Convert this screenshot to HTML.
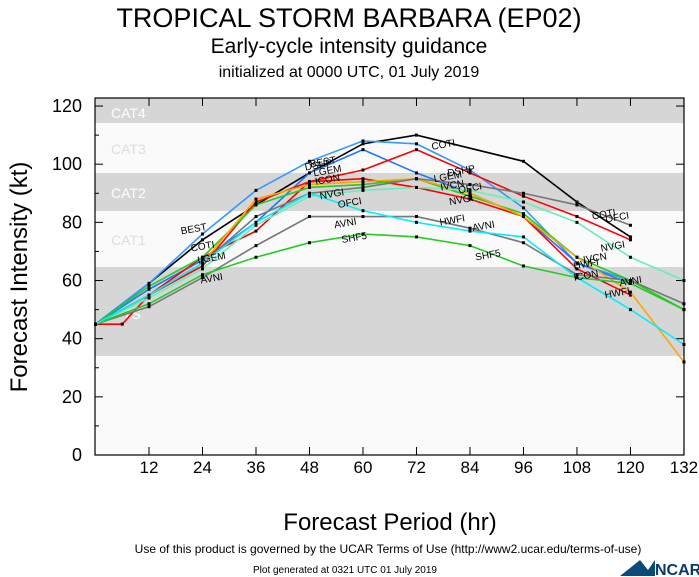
<!DOCTYPE html><html><head><style>body{margin:0;background:#fff}svg{display:block;font-family:"Liberation Sans",sans-serif}</style></head><body>
<svg id="s" width="699" height="577" xmlns="http://www.w3.org/2000/svg">
<text x="349" y="27" font-size="27" text-anchor="middle">TROPICAL STORM BARBARA (EP02)</text>
<text x="349" y="53" font-size="21" text-anchor="middle">Early-cycle intensity guidance</text>
<text x="349" y="77" font-size="16" text-anchor="middle">initialized at 0000 UTC, 01 July 2019</text>
<rect x="95" y="98" width="589" height="357" fill="#fafafa"/>
<rect x="95" y="98" width="589" height="25" fill="#d6d6d6"/>
<rect x="95" y="173" width="589" height="38" fill="#d6d6d6"/>
<rect x="95" y="267" width="589" height="89" fill="#d6d6d6"/>
<g font-size="14" fill="#fff"><text x="111" y="118">CAT4</text><text x="111" y="154" fill="#ddd">CAT3</text><text x="111" y="198">CAT2</text><text x="111" y="245" fill="#ddd">CAT1</text><text x="123" y="319">TS</text></g>
<g id="ax"></g>
<g id="ln" fill="none" stroke-width="1.6"></g>
<g id="lb" font-size="10"></g>
<rect x="95" y="98" width="589" height="357" fill="none" stroke="#000" stroke-width="1.2"/>
<text transform="translate(27,277) rotate(-90)" font-size="24" text-anchor="middle">Forecast Intensity (kt)</text>
<text x="390" y="530" font-size="24" text-anchor="middle">Forecast Period (hr)</text>
<text x="388" y="553" font-size="12" text-anchor="middle">Use of this product is governed by the UCAR Terms of Use (http://www2.ucar.edu/terms-of-use)</text>
<text x="345" y="573" font-size="10" text-anchor="middle">Plot generated at 0321 UTC   01 July 2019</text>
<path d="M620 576 L640 560 L648 570 L655 560 L655 576Z" fill="#0a4a7a"/>
<text x="655" y="575" font-size="16" font-weight="bold" fill="#0a3a6a">NCAR</text>
</svg>
<script>
const X=h=>95.5+h*4.458,Y=k=>455-k*2.908,ns="http://www.w3.org/2000/svg";
function el(p,t,a,tx){const e=document.createElementNS(ns,t);for(const k in a)e.setAttribute(k,a[k]);if(tx!==undefined)e.textContent=String(tx);document.getElementById(p).appendChild(e);return e}
for(let k=0;k<=120;k+=20){el("ax","text",{x:82,y:Y(k)+6,"font-size":18,"text-anchor":"end"},k);el("ax","line",{x1:95,x2:103,y1:Y(k),y2:Y(k),stroke:"#000"});el("ax","line",{x1:676,x2:684,y1:Y(k),y2:Y(k),stroke:"#000"});}
for(let k=10;k<120;k+=20){el("ax","line",{x1:95,x2:99,y1:Y(k),y2:Y(k),stroke:"#000"});}
for(let h=12;h<=132;h+=12){el("ax","text",{x:X(h),y:473,"font-size":17,"text-anchor":"middle"},h);el("ax","line",{x1:X(h),x2:X(h),y1:455,y2:447,stroke:"#000"});el("ax","line",{x1:X(h),x2:X(h),y1:98,y2:106,stroke:"#000"});}
const S=[
["#000","COTI",[[0,45],[12,59],[24,74],[36,86],[48,97],[60,107],[72,110],[96,101],[108,87],[120,75]],[[24,72],[78,107],[114,83]]],
["#3399ff","BEST",[[0,45],[12,59],[24,76],[36,91],[48,101],[60,108],[72,107],[84,98],[96,85],[108,66],[120,60]],[[22,78],[51,101]]],
["#1e78ff","LGEM",[[0,45],[12,57],[24,67],[36,80],[48,97],[60,105],[72,97],[84,90],[96,82],[108,66],[120,59]],[[26,68],[79,96],[52,98]]],
["#ff0000","DSHP",[[0,45],[6,45],[12,55],[24,68],[36,77],[48,94],[60,98],[72,105],[84,97],[96,89],[108,82],[120,74]],[[50,100],[82,98]]],
["#ff0000","ICON",[[0,45],[12,55],[24,65],[36,87],[48,94],[60,95],[72,92],[84,88],[96,82],[108,64],[120,55]],[[52,95],[110,62]]],
["#22cc22","HWFI",[[0,45],[12,58],[24,68],[36,86],[48,92],[60,93],[72,95],[84,89],[96,83],[108,68],[120,60],[132,50]],[[110,66]]],
["#ffa500","IVCN",[[0,45],[12,55],[24,66],[36,88],[48,93],[60,94],[72,95],[84,90],[96,82],[108,68],[120,56],[132,32]],[[80,93],[112,68]]],
["#66eebb","NVGI",[[0,45],[12,54],[24,64],[36,79],[48,89],[60,91],[72,92],[84,91],[96,87],[108,80],[120,68],[132,60]],[[53,90],[82,88],[116,72]]],
["#777","OFCI",[[0,45],[12,55],[24,66],[36,82],[48,90],[60,92],[72,95],[84,93],[96,90],[108,86],[120,79]],[[57,87],[84,92],[117,82]]],
["#777","AVNI",[[0,45],[12,51],[24,61],[36,72],[48,82],[60,82],[72,82],[84,78],[96,73],[108,62],[120,60],[132,52]],[[26,61],[56,80],[87,79],[120,60]]],
["#22cc22","SHF5",[[0,45],[12,52],[24,62],[36,68],[48,73],[60,76],[72,75],[84,72],[96,65],[108,61],[120,59],[132,50]],[[58,75],[88,69]]],
["#00eeff","HWFI",[[0,45],[12,55],[24,66],[36,80],[48,90],[60,84],[72,80],[84,77],[96,75],[108,61],[120,50],[132,38]],[[80,81],[117,56]]]];
for(const [c,n,p,l] of S){el("ln","polyline",{points:p.map(q=>X(q[0])+","+Y(q[1])).join(" "),stroke:c});
for(const q of p)el("ln","rect",{x:X(q[0])-1.5,y:Y(q[1])-1.5,width:3,height:3,fill:"#000",stroke:"none"});
for(const q of l)el("lb","text",{x:X(q[0]),y:Y(q[1])+4,"text-anchor":"middle",transform:`rotate(-10 ${X(q[0])} ${Y(q[1])})`},n);}
</script></body></html>
